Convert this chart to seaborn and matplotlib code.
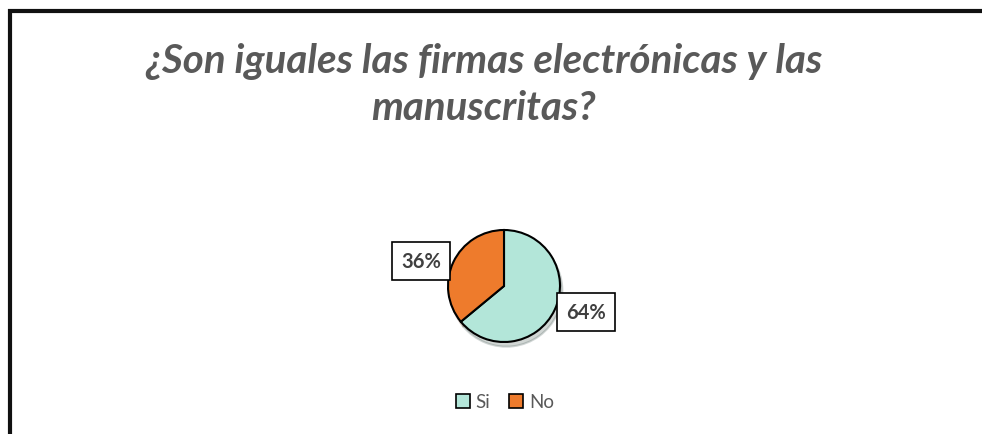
import matplotlib
matplotlib.use("Agg")
import matplotlib.pyplot as plt
import matplotlib.patches as mpatches
import seaborn as sns

labels = ["Si", "No"]
values = [64, 36]
colors = ["#B3E6D9", "#EE7B2C"]
title = "¿Son iguales las firmas electrónicas y las\nmanuscritas?"

sns.set_theme(style="white")
plt.rcParams["font.family"] = ["Lato", "DejaVu Sans"]

fig = plt.figure(figsize=(9.82, 4.35), dpi=100)

# outer frame, open on the right and bottom like the cropped original
fig.add_artist(plt.Line2D([9.5 / 982, 9.5 / 982], [0, 1 - 10 / 435],
                          transform=fig.transFigure, color="#111111", lw=3,
                          solid_capstyle="butt"))
fig.add_artist(plt.Line2D([8 / 982, 1], [1 - 11.5 / 435, 1 - 11.5 / 435],
                          transform=fig.transFigure, color="#111111", lw=3,
                          solid_capstyle="butt"))

fig.text(0.4925, 1 - 85 / 435, title, ha="center", va="center", fontsize=29,
         style="italic", weight="bold", color="#595959", linespacing=1.3)

ax = fig.add_axes([(504 - 56) / 982, 1 - (287 + 56) / 435, 112 / 982, 112 / 435])
wedges, _ = ax.pie(values, colors=colors, startangle=90, counterclock=False,
                   wedgeprops=dict(edgecolor="black", linewidth=1.5),
                   shadow=dict(ox=0.03, oy=-0.06, shade=0.6, alpha=0.25))
ax.set_xlim(-1, 1)
ax.set_ylim(-1, 1)
ax.set_aspect("equal")

box = dict(boxstyle="square,pad=0.45", fc="white", ec="black", lw=1.2)
label_pos = [(1.47, -0.46), (-1.48, 0.44)]
for v, (x, y) in zip(values, label_pos):
    ax.text(x, y, f"{v}%", ha="center", va="center", fontsize=14.5,
            weight="bold", color="#404040", bbox=box)

handles = [mpatches.Patch(facecolor=c, edgecolor="black", lw=1.2, label=l)
           for c, l in zip(colors, labels)]
fig.legend(handles=handles, loc="center", bbox_to_anchor=(505 / 982, 1 - 403 / 435),
           ncol=2, frameon=False, fontsize=13.5, handlelength=0.75, handleheight=0.75,
           handletextpad=0.3, columnspacing=1.0, labelcolor="#595959")

fig.savefig("out.png", dpi=100, facecolor="white")
